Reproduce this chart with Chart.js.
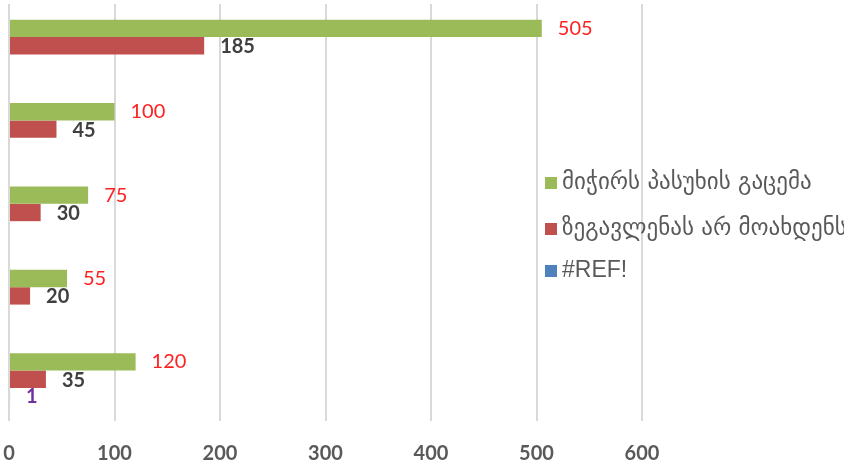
<!DOCTYPE html>
<html>
<head>
<meta charset="utf-8">
<script src="https://cdn.jsdelivr.net/npm/chart.js@4"></script>
<style>
  html, body { margin: 0; padding: 0; background: #ffffff; }
  #wrap { width: 844px; height: 466px; position: relative; }
</style>
</head>
<body>
<div id="wrap"><canvas id="barChart"></canvas></div>
<script>
const categories = ['1', '2', '3', '4', '5'];
const seriesNames = ['მიჭირს პასუხის გაცემა', 'ზეგავლენას არ მოახდენს', '#REF!'];
const hardToAnswer = [505, 100, 75, 55, 120];
const noInfluence = [185, 45, 30, 20, 35];
const refValues = [null, null, null, null, 1];
const xTicks = [0, 100, 200, 300, 400, 500, 600];

const barColors = ['#9BBB59', '#C0504D', '#4F81BD'];
const labelColors = ['#FF2020', '#404040', '#7030A0'];
const labelWeights = ['normal', 'bold', 'bold'];

// value labels to the right of each bar
const valueLabels = {
    id: 'valueLabels',
    afterDatasetsDraw(chart) {
        const ctx = chart.ctx;
        chart.data.datasets.forEach((ds, i) => {
            const meta = chart.getDatasetMeta(i);
            meta.data.forEach((bar, j) => {
                const v = ds.data[j];
                if (v === null || v === undefined) return;
                ctx.save();
                ctx.font = labelWeights[i] + ' 20px Lato, sans-serif';
                ctx.fillStyle = labelColors[i];
                ctx.textBaseline = 'middle';
                ctx.textAlign = 'left';
                ctx.fillText(String(v), bar.x + 16, bar.y + (i === 1 ? 1 : 0));
                ctx.restore();
            });
        });
    }
};

// legend placed over the right side of the plot
const sideLegend = {
    id: 'sideLegend',
    afterDraw(chart) {
        const ctx = chart.ctx;
        const rows = [183, 229, 271];
        seriesNames.forEach((name, i) => {
            ctx.save();
            ctx.fillStyle = barColors[i];
            ctx.fillRect(545, rows[i] - 6, 12, 12);
            ctx.fillStyle = '#595959';
            ctx.font = (i === 2 ? '23px "Liberation Sans", Arial' : '23px "DejaVu Sans", sans-serif');
            ctx.textBaseline = 'middle';
            ctx.fillText(name, 562, rows[i]);
            ctx.restore();
        });
    }
};

const ctx = document.getElementById('barChart').getContext('2d');
new Chart(ctx, {
    type: 'bar',
    data: {
        labels: categories,
        datasets: seriesNames.map((name, i) => ({
            label: name,
            data: [hardToAnswer, noInfluence, refValues][i],
            backgroundColor: barColors[i],
            borderWidth: 0,
            barPercentage: 1,
            categoryPercentage: 0.625
        }))
    },
    options: {
        indexAxis: 'y',
        responsive: true,
        maintainAspectRatio: false,
        animation: false,
        layout: { padding: { top: 4, right: 202, left: 9, bottom: 0 } },
        plugins: {
            legend: { display: false },
            tooltip: { enabled: false }
        },
        scales: {
            x: {
                min: 0,
                max: 600,
                afterBuildTicks(scale) {
                    scale.ticks = xTicks.map(v => ({ value: v }));
                },
                afterFit(scale) {
                    scale.height = 45;
                    scale.paddingLeft = 0;
                    scale.paddingRight = 0;
                },
                grid: { color: '#D9D9D9', lineWidth: 2, drawTicks: false },
                border: { display: false },
                ticks: {
                    color: '#595959',
                    padding: 21,
                    maxRotation: 0,
                    font: { family: 'Lato, sans-serif', size: 20, weight: 'bold' }
                }
            },
            y: {
                display: false
            }
        }
    },
    plugins: [valueLabels, sideLegend]
});
</script>
</body>
</html>
